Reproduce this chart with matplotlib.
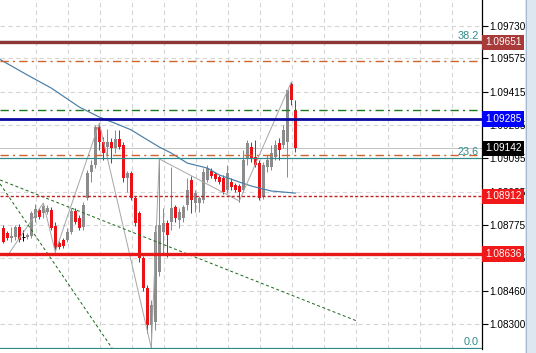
import numpy as np
import matplotlib.pyplot as plt
from matplotlib.patches import Rectangle
from matplotlib.lines import Line2D

plt.rcParams['font.family'] = ['Liberation Sans', 'DejaVu Sans']

# candle data (one bar per index)
opens = [1.08760, 1.08736, 1.08712, 1.08717, 1.08765, 1.08717, 1.08717, 1.08722, 1.08808, 1.08847,
         1.08832, 1.08837, 1.08847, 1.08770, 1.08688, 1.08703, 1.08703, 1.08741, 1.08842, 1.08808,
         1.08765, 1.08904, 1.09029, 1.09063, 1.09245, 1.09173, 1.09149, 1.09173, 1.09144, 1.09188,
         1.09159, 1.09000, 1.09024, 1.08904, 1.08832, 1.08616, 1.08472, 1.08295, 1.08309, 1.08549,
         1.08741, 1.08784, 1.08789, 1.08861, 1.08799, 1.08808, 1.08871, 1.08991, 1.08880, 1.08880,
         1.08895, 1.08991, 1.09034, 1.09020, 1.09005, 1.09000, 1.08943, 1.08981, 1.08967, 1.08962,
         1.08943, 1.09096, 1.09149, 1.09101, 1.09072, 1.08909, 1.09053, 1.09053, 1.09101, 1.09168,
         1.09159, 1.09173, 1.09452, 1.09327]
highs = [1.08775, 1.08746, 1.08765, 1.08775, 1.08780, 1.08751, 1.08736, 1.08842, 1.08876, 1.08856,
         1.08880, 1.08871, 1.08861, 1.08789, 1.08698, 1.08712, 1.08760, 1.08856, 1.08856, 1.08823,
         1.08885, 1.09039, 1.09087, 1.09255, 1.09264, 1.09197, 1.09236, 1.09192, 1.09231, 1.09231,
         1.09173, 1.09034, 1.09034, 1.08914, 1.08842, 1.08626, 1.08487, 1.08415, 1.08775, 1.09092,
         1.08856, 1.08799, 1.09053, 1.08871, 1.08856, 1.08871, 1.09000, 1.09010, 1.08943, 1.08914,
         1.09048, 1.09063, 1.09048, 1.09029, 1.09015, 1.09015, 1.09063, 1.09000, 1.08976, 1.08972,
         1.09135, 1.09183, 1.09173, 1.09183, 1.09087, 1.09077, 1.09111, 1.09159, 1.09183, 1.09192,
         1.09255, 1.09413, 1.09461, 1.09375]
lows = [1.08688, 1.08703, 1.08693, 1.08703, 1.08693, 1.08698, 1.08708, 1.08712, 1.08789, 1.08804,
        1.08808, 1.08828, 1.08751, 1.08645, 1.08660, 1.08664, 1.08693, 1.08732, 1.08780, 1.08751,
        1.08751, 1.08895, 1.08981, 1.09048, 1.09135, 1.09087, 1.09111, 1.09072, 1.09120, 1.09140,
        1.08981, 1.08933, 1.08895, 1.08770, 1.08597, 1.08458, 1.08256, 1.08184, 1.08271, 1.08530,
        1.08640, 1.08621, 1.08751, 1.08789, 1.08760, 1.08789, 1.08847, 1.08832, 1.08837, 1.08837,
        1.08880, 1.08981, 1.09000, 1.08986, 1.08972, 1.08924, 1.08928, 1.08943, 1.08933, 1.08885,
        1.08933, 1.09063, 1.09077, 1.09053, 1.08895, 1.08900, 1.09029, 1.09039, 1.09087, 1.09087,
        1.09144, 1.09005, 1.09351, 1.09125]
closes = [1.08693, 1.08712, 1.08722, 1.08765, 1.08703, 1.08717, 1.08727, 1.08832, 1.08852, 1.08813,
          1.08866, 1.08856, 1.08760, 1.08664, 1.08669, 1.08674, 1.08741, 1.08842, 1.08789, 1.08760,
          1.08871, 1.09024, 1.09063, 1.09245, 1.09173, 1.09120, 1.09173, 1.09144, 1.09188, 1.09149,
          1.09000, 1.09024, 1.08904, 1.08784, 1.08616, 1.08472, 1.08295, 1.08391, 1.08741, 1.08775,
          1.08784, 1.08727, 1.08856, 1.08808, 1.08837, 1.08861, 1.08943, 1.08895, 1.08928, 1.08904,
          1.09029, 1.09048, 1.09010, 1.08996, 1.08981, 1.08933, 1.09024, 1.08957, 1.08943, 1.08933,
          1.09087, 1.09168, 1.09096, 1.09063, 1.08904, 1.09063, 1.09087, 1.09120, 1.09159, 1.09135,
          1.09231, 1.09423, 1.09375, 1.09142]

# moving average (read at a few bars)
ma_idx = [-0.8, 6, 12, 19, 24, 29, 32, 34, 39, 42, 46, 51, 54, 59, 62, 64, 67, 73]
ma_val = [1.09569, 1.09495, 1.09432, 1.09341, 1.09293, 1.09255, 1.09231, 1.09207, 1.09149,
          1.09120, 1.09072, 1.09048, 1.09015, 1.08981, 1.08962, 1.08952, 1.08938, 1.08928]

# zigzag
zz_idx = [1, 10, 13, 24, 37, 39, 59, 72]
zz_val = [1.08626, 1.08880, 1.08645, 1.09264, 1.08184, 1.09092, 1.08890, 1.09461]

# trend lines (dotted green)
trend_a_idx = [-0.8, 88.4]
trend_a_val = [1.08991, 1.08314]
trend_b_idx = [-0.8, 29.2]
trend_b_val = [1.08972, 1.08127]

# horizontal levels
level_brown = 1.09651
level_blue = 1.09285
level_bid = 1.09142
level_red_dash = 1.08912
level_red = 1.08636
level_orange_hi = 1.09562
level_orange_lo = 1.09113
level_green = 1.09325
fib_levels = [1.09656, 1.09098, 1.08184]
fib_labels = ['38.2', '23.6', '0.0']

yticks = [1.09730, 1.09575, 1.09415, 1.09255, 1.09095, 1.08935, 1.08775, 1.08615, 1.08460, 1.08300]

W, H = 536, 353
fig = plt.figure(figsize=(W / 100, H / 100), dpi=100)
ax = fig.add_axes([0, 4 / H, 482 / W, 349 / H])
ax.set_xlim(-0.825, 119.675)
ax.set_ylim(1.081796, 1.098548)

# grid
ax.set_xticks(np.arange(8.1, 119, 8))
ax.set_yticks(yticks)
ax.set_yticklabels(['%.5f' % v for v in yticks])
ax.grid(True, color='#d6d6d6', linestyle=(0, (4, 3)), linewidth=0.8, zorder=0)
ax.yaxis.tick_right()
ax.tick_params(axis='x', length=0, labelbottom=False)
ax.tick_params(axis='y', length=4, width=0.8, labelsize=7.2, pad=1.5, colors='black')
for s in ['top', 'left', 'bottom']:
    ax.spines[s].set_visible(False)
ax.spines['right'].set_color('black')
ax.spines['right'].set_linewidth(0.9)

px = 0.72  # one pixel in points

# candles
o = np.array(opens)
c = np.array(closes)
idx = np.arange(len(o))
col = np.where(c > o, '#8c8c8c', np.where(c < o, '#ea1216', '#000000'))
ax.vlines(idx, lows, highs, colors=col, linewidth=px, zorder=3)
ax.bar(idx, np.abs(c - o), bottom=np.minimum(o, c), width=0.72, color=col, linewidth=0, zorder=3)
flat = c == o
ax.hlines(c[flat], idx[flat] - 0.45, idx[flat] + 0.45, colors='black', linewidth=px, zorder=3)

# indicators
ax.plot(ma_idx, ma_val, color='#4a7fa8', linewidth=px * 1.2, zorder=4)
ax.plot(zz_idx, zz_val, color='#a8a8a8', linewidth=px, zorder=4)
ax.plot(trend_a_idx, trend_a_val, color='#1e6b1e', linewidth=px, linestyle=(0, (3, 2.5)), zorder=4)
ax.plot(trend_b_idx, trend_b_val, color='#1e6b1e', linewidth=px, linestyle=(0, (3, 2.5)), zorder=4)

# levels
ax.axhline(level_bid, color='#c4c4c4', linewidth=px, zorder=2)
ax.axhline(level_orange_hi, color='#d0642a', linewidth=1.0, linestyle=(0, (6, 3, 1.5, 3)), zorder=5)
ax.axhline(level_orange_lo, color='#d0642a', linewidth=1.0, linestyle=(0, (6, 3, 1.5, 3)), zorder=5)
ax.axhline(level_green, color='#1e7a1e', linewidth=1.0, linestyle=(0, (6, 3, 1.5, 3)), zorder=5)
ax.axhline(level_red_dash, color='#c42020', linewidth=1.0, linestyle=(0, (2.2, 1.5)), zorder=5)
for lv, lb in zip(fib_levels, fib_labels):
    ax.axhline(lv, color='#2e8a8a', linewidth=px * 1.2, zorder=5)
    ax.text(118.9, lv + 0.00004, lb, ha='right', va='bottom', fontsize=7.8, color='#2e8a8a', zorder=6)
ax.axhline(level_brown, color='#8e3636', linewidth=2.4, zorder=5)
ax.axhline(level_blue, color='#0a0aa0', linewidth=2.0, zorder=5)
ax.axhline(level_red, color='#e81818', linewidth=2.4, zorder=5)

# price boxes on the axis
boxes = [(level_brown, '#a83a3a'), (level_blue, '#0000ff'), (level_bid, '#000000'),
         (level_red_dash, '#f01818'), (level_red, '#f01818')]
tr = ax.get_yaxis_transform()
for lv, fc in boxes:
    ax.text(1.006, lv, '%.5f' % lv, transform=tr, ha='left', va='center', fontsize=7.2,
            color='white', clip_on=False, zorder=10,
            bbox=dict(boxstyle='square,pad=0.28', fc=fc, ec='none'))

# right scroll strip
fig.patches.append(Rectangle((525 / W, 0), 11 / W, 1, transform=fig.transFigure,
                             fc='#dce7f2', ec='none'))
fig.lines.append(Line2D([525.5 / W, 525.5 / W], [0, 1], transform=fig.transFigure,
                        color='#a6b8cc', linewidth=px))

fig.savefig('out.png', dpi=100)
